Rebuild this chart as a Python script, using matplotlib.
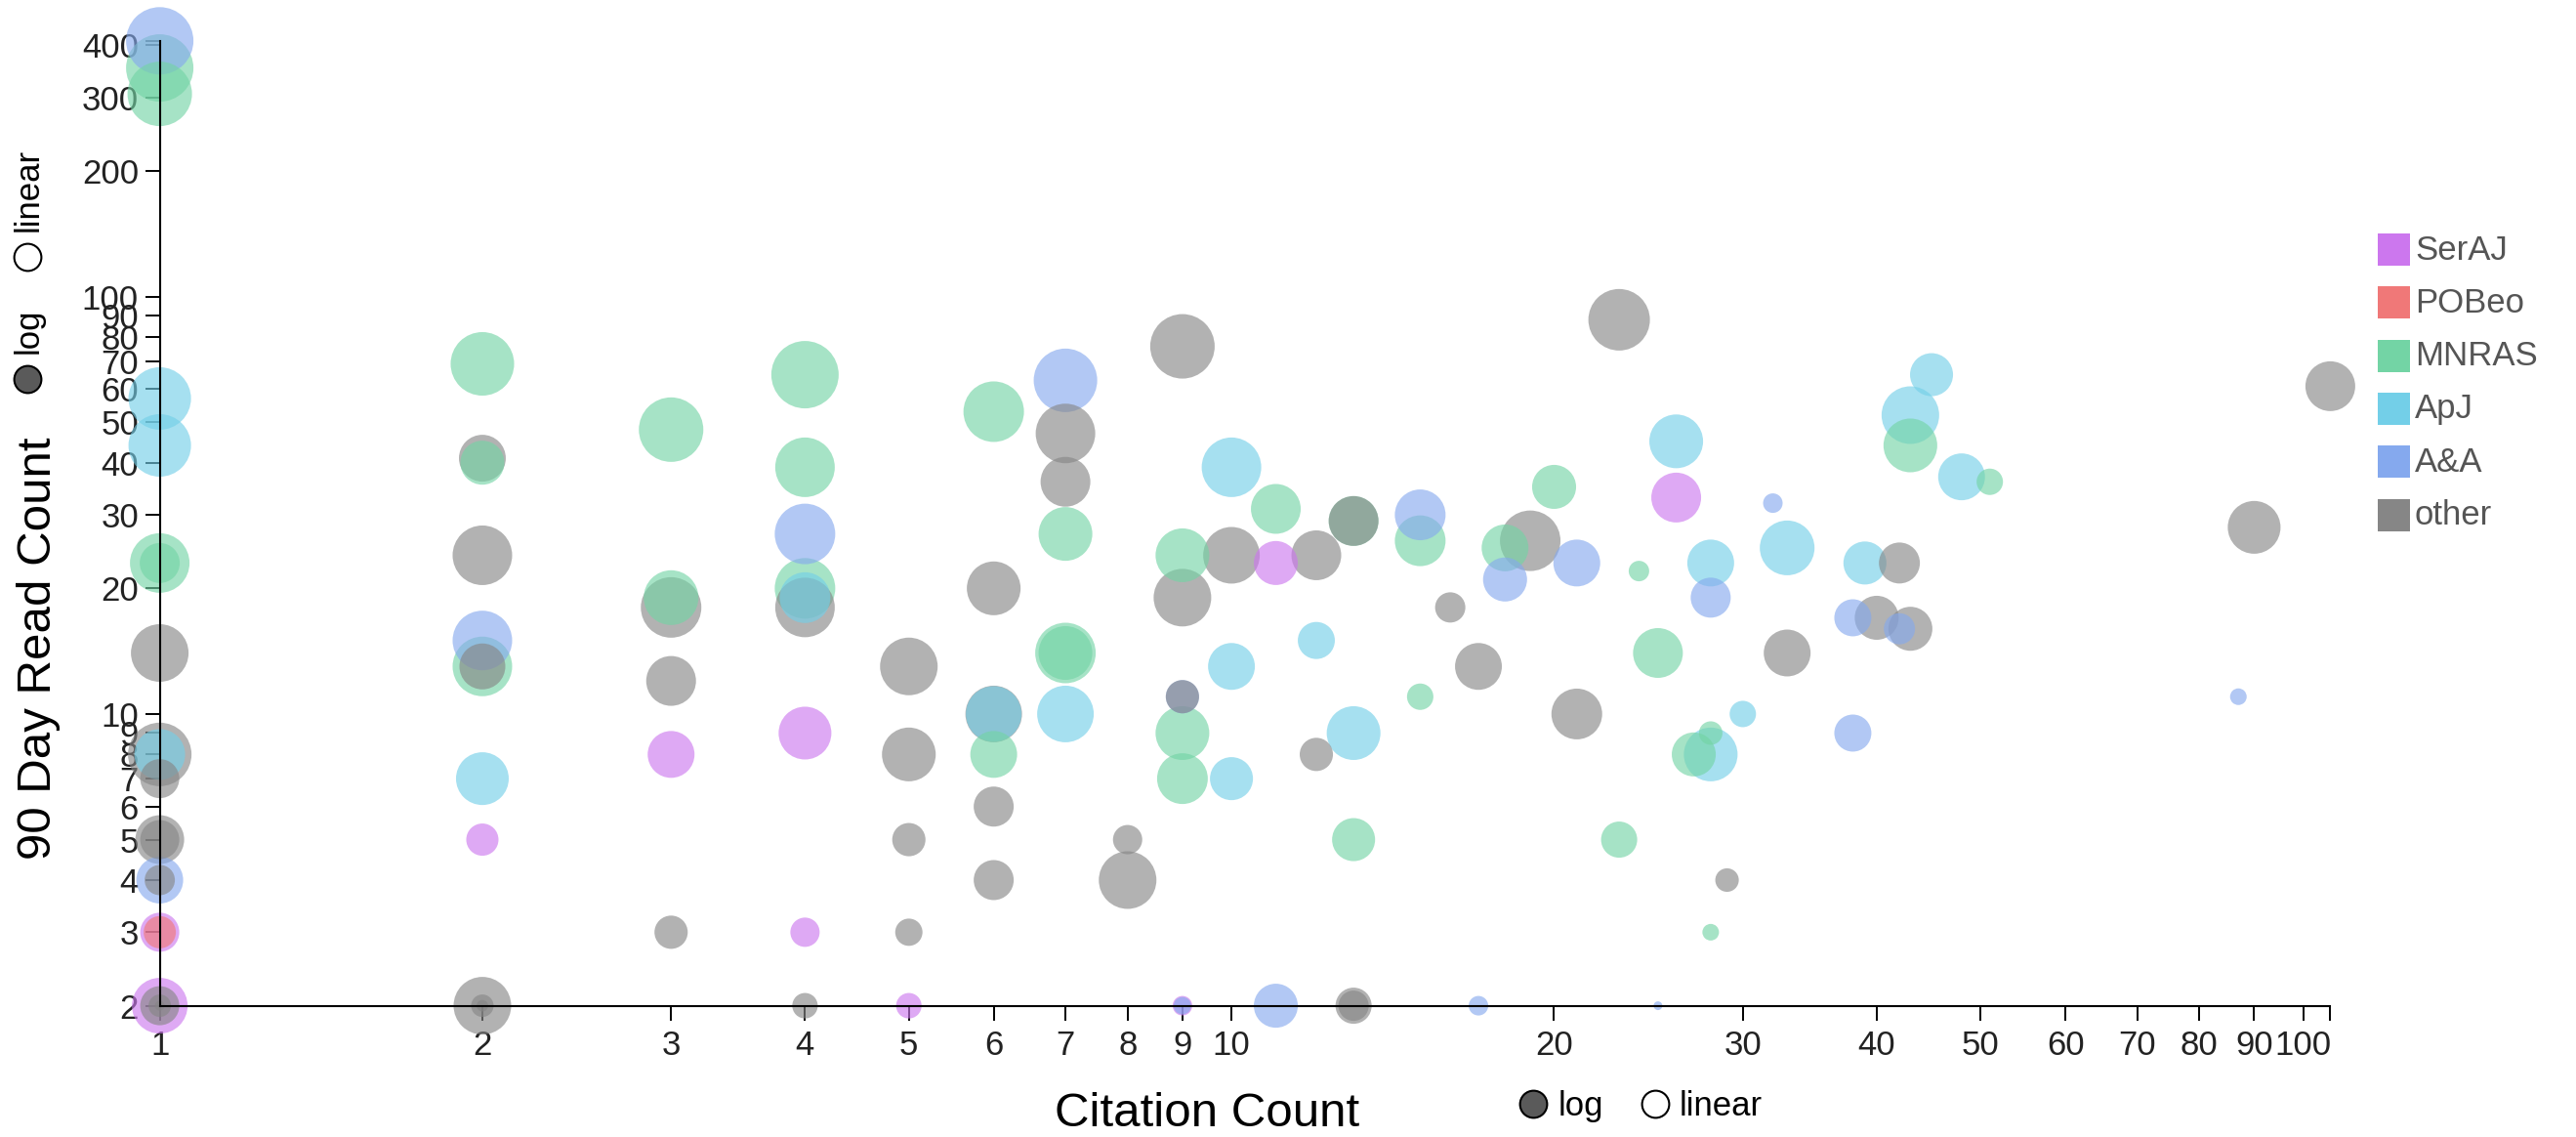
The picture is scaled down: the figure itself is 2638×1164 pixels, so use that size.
import numpy as np
import matplotlib
matplotlib.use("Agg")
import matplotlib.pyplot as plt
from matplotlib.patches import Rectangle
from matplotlib.lines import Line2D
from matplotlib.ticker import FixedLocator, FixedFormatter, NullLocator

plt.rcParams['font.family'] = ['Liberation Sans', 'DejaVu Sans']

# ---------------- data ----------------
journals = ["SerAJ", "POBeo", "MNRAS", "ApJ", "A&A", "other"]
journal_colors = ["#cc77ee", "#f07878", "#73d4a5", "#73cfe8", "#85a9ee", "#868686"]

serAJ_cites = [1, 1, 2, 3, 4, 4, 5, 9, 11, 26]
serAJ_reads = [2, 3, 5, 8, 9, 3, 2, 2, 23, 33]
serAJ_weight = [32.5, 16.0, 10.9, 23.0, 29.2, 9.0, 6.8, 4.0, 20.3, 26.0]

pobeo_cites = [1]
pobeo_reads = [3]
pobeo_weight = [10.9]

mnras_cites = [1, 1, 1, 1, 2, 2, 2, 3, 3, 4, 4, 4, 6, 6, 7, 7, 7, 9, 9, 9, 11, 13, 13,
               15, 15, 18, 20, 23, 24, 25, 27, 28, 28, 43, 51]
mnras_reads = [353, 306, 23, 23, 69, 40, 13, 48, 19, 65, 39, 20, 53, 8, 27, 14, 14, 24, 9, 7,
               31, 29, 5, 26, 11, 25, 35, 5, 22, 14, 8, 9, 3, 44, 36]
mnras_weight = [47.6, 43.6, 37.2, 16.8, 42.3, 20.3, 37.2, 43.6, 31.4, 47.6, 37.2, 38.4, 38.4,
                23.0, 30.3, 38.4, 30.3, 30.3, 30.3, 27.0, 26.0, 26.0, 19.4, 27.0, 7.3, 23.0,
                20.3, 13.7, 4.4, 26.0, 20.3, 5.8, 2.9, 30.3, 7.3]

apj_cites = [1, 1, 1, 2, 4, 6, 7, 10, 10, 10, 12, 13, 26, 28, 28, 30, 33, 39, 43, 45, 48]
apj_reads = [57, 44, 8, 7, 19, 10, 10, 39, 13, 7, 15, 9, 45, 23, 8, 10, 25, 23, 52, 65, 37]
apj_weight = [41.0, 41.0, 27.0, 29.2, 27.0, 32.5, 33.6, 37.2, 23.0, 19.4, 14.4, 30.3, 30.3,
              23.0, 30.3, 7.3, 31.4, 19.4, 34.8, 19.4, 23.0]

aa_cites = [1, 1, 2, 4, 7, 9, 9, 11, 15, 17, 18, 21, 25, 28, 32, 38, 38, 42, 87]
aa_reads = [410, 4, 15, 27, 63, 11, 2, 2, 30, 2, 21, 23, 2, 19, 32, 17, 9, 16, 11]
aa_weight = [47.6, 23.0, 37.2, 38.4, 42.3, 11.6, 3.2, 20.3, 27.0, 4.0, 20.3, 23.0, 0.8, 16.8,
             4.0, 14.4, 14.4, 10.2, 2.9]

other_cites = [1, 1, 1, 1, 1, 1, 1, 1, 1, 2, 2, 2, 2, 2, 2, 3, 3, 3, 4, 4, 5, 5, 5, 5,
               6, 6, 6, 6, 7, 7, 8, 8, 9, 9, 9, 10, 12, 12, 13, 13, 13, 16, 17, 19, 21, 23,
               29, 33, 40, 42, 43, 90, 106]
other_reads = [14, 8, 7, 5, 5, 4, 2, 2, 2, 41, 24, 13, 2, 2, 2, 18, 12, 3, 18, 2, 13, 8, 5, 3,
               20, 10, 6, 4, 47, 36, 5, 4, 76, 19, 11, 24, 24, 8, 29, 2, 2, 18, 13, 26, 10, 88,
               4, 14, 17, 23, 16, 28, 61]
other_weight = [34.8, 42.3, 16.0, 25.0, 16.0, 9.6, 16.0, 5.3, 1.0, 23.0, 37.2, 22.1, 34.8, 5.3,
                1.4, 38.4, 26.0, 11.6, 37.2, 6.8, 34.8, 30.3, 11.6, 7.8, 30.3, 33.6, 16.8, 16.8,
                37.2, 26.0, 9.0, 34.8, 43.6, 34.8, 11.6, 33.6, 26.0, 11.6, 26.0, 13.7, 9.6, 9.6,
                23.0, 38.4, 27.0, 39.7, 5.8, 23.0, 20.3, 17.6, 20.3, 29.2, 26.0]

x_ticks = [1, 2, 3, 4, 5, 6, 7, 8, 9, 10, 20, 30, 40, 50, 60, 70, 80, 90, 100]
y_ticks = [2, 3, 4, 5, 6, 7, 8, 9, 10, 20, 30, 40, 50, 60, 70, 80, 90, 100, 200, 300, 400]

series = [
    (serAJ_cites, serAJ_reads, serAJ_weight),
    (pobeo_cites, pobeo_reads, pobeo_weight),
    (mnras_cites, mnras_reads, mnras_weight),
    (apj_cites, apj_reads, apj_weight),
    (aa_cites, aa_reads, aa_weight),
    (other_cites, other_reads, other_weight),
]

# ---------------- figure ----------------
W, H = 2638, 1164
DPI = 100
fig = plt.figure(figsize=(W / DPI, H / DPI), dpi=DPI)
fig.patch.set_facecolor("white")

def fx(px):
    return px / W

def fy(py):
    return 1 - py / H

ax_l, ax_r, ax_b, ax_t = 163.6, 2386.4, 1029.6, 41.8
ax = fig.add_axes([fx(ax_l), fy(ax_b), fx(ax_r) - fx(ax_l), fy(ax_t) - fy(ax_b)])
ax.set_xscale("log")
ax.set_yscale("log")

all_x = np.concatenate([np.array(s[0], float) for s in series])
all_y = np.concatenate([np.array(s[1], float) for s in series])
all_w = np.concatenate([np.array(s[2], float) for s in series])
all_c = np.concatenate([[i] * len(s[0]) for i, s in enumerate(series)]).astype(int)

xmin, xmax = all_x.min(), all_x.max()
ymin, ymax = all_y.min(), all_y.max()
ax.set_xlim(xmin, xmax)
ax.set_ylim(ymin, ymax)

# bubble size: area proportional to weight
diam_px = 10 * np.sqrt(all_w)
sizes = (diam_px * 72 / DPI) ** 2
alpha = 0.63
rgba = [matplotlib.colors.to_rgba(journal_colors[i], alpha) for i in all_c]

order = np.argsort(-all_w, kind="stable")
ax.scatter(all_x[order], all_y[order], s=sizes[order], c=[rgba[i] for i in order],
           linewidths=0, clip_on=False, zorder=3)

for sp in ["top", "right"]:
    ax.spines[sp].set_visible(False)
for sp in ["left", "bottom"]:
    ax.spines[sp].set_linewidth(1.5)
    ax.spines[sp].set_color("black")
    ax.spines[sp].set_zorder(4)

xt = x_ticks + [xmax]
yt = y_ticks + [ymax]
ax.xaxis.set_major_locator(FixedLocator(xt))
ax.xaxis.set_major_formatter(FixedFormatter([str(v) for v in x_ticks] + [""]))
ax.yaxis.set_major_locator(FixedLocator(yt))
ax.yaxis.set_major_formatter(FixedFormatter([str(v) for v in y_ticks] + [""]))
ax.xaxis.set_minor_locator(NullLocator())
ax.yaxis.set_minor_locator(NullLocator())
ax.tick_params(axis="both", which="major", length=10.8, width=1.4, direction="out",
               labelsize=25, color="black", labelcolor="#222222", zorder=5)
ax.tick_params(axis="x", pad=7.0)
ax.tick_params(axis="y", pad=4.8)
ax.set_facecolor("none")

# axis titles
fig.text(fx(1236), fy(1153), "Citation Count", ha="center", va="baseline",
         fontsize=35.5, color="black")
fig.text(fx(52), fy(664), "90 Day Read Count", rotation=90, rotation_mode="anchor",
         ha="center", va="baseline", fontsize=35.5, color="black")

# log / linear toggles (bottom)
def toggle(x, y, filled):
    fig.add_artist(Line2D([fx(x)], [fy(y)], marker="o", markersize=20,
                          markerfacecolor="#5a5a5a" if filled else "white",
                          markeredgecolor="black", markeredgewidth=1.5,
                          transform=fig.transFigure))

toggle(1570, 1130, True)
toggle(1695, 1130, False)
fig.text(fx(1596), fy(1142), "log", ha="left", va="baseline", fontsize=25, color="black")
fig.text(fx(1720), fy(1142), "linear", ha="left", va="baseline", fontsize=25, color="black")

# log / linear toggles (left, rotated)
toggle(28, 388, True)
toggle(28, 263, False)
fig.text(fx(39), fy(362), "log", rotation=90, rotation_mode="anchor", ha="left",
         va="baseline", fontsize=25, color="black")
fig.text(fx(39), fy(237), "linear", rotation=90, rotation_mode="anchor", ha="left",
         va="baseline", fontsize=25, color="black")

# legend
for i, (name, col) in enumerate(zip(journals, journal_colors)):
    cy = 255.5 + 54.3 * i
    fig.add_artist(Rectangle((fx(2435), fy(cy + 16.5)), 33 / W, 33 / H, facecolor=col,
                             edgecolor="none", transform=fig.transFigure))
    fig.text(fx(2473), fy(cy + 10), name, ha="left", va="baseline", fontsize=25,
             color="#555555")

fig.savefig("out.png", dpi=DPI, facecolor="white")
